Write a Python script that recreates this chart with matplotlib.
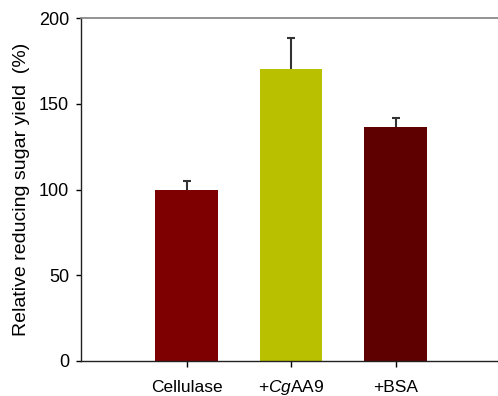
import matplotlib
matplotlib.use("Agg")
import matplotlib.pyplot as plt
import numpy as np

plt.rcParams['font.family'] = ['Liberation Sans', 'DejaVu Sans']
plt.rcParams['mathtext.fontset'] = 'custom'
plt.rcParams['mathtext.rm'] = 'Liberation Sans'
plt.rcParams['mathtext.it'] = 'Liberation Sans:italic'

labels = ['Cellulase', r'+$\mathit{Cg}$AA9', '+BSA']
yields = [100, 170, 136.5]
errors = [5, 18.5, 5]
colors = ['#7f0000', '#b8c000', '#5f0000']

fig = plt.figure(figsize=(4.98, 3.96), dpi=100)
ax = fig.add_axes([0.1627, 0.0884, 0.8373, 0.8661])

x = np.arange(len(labels))
ax.bar(x, yields, width=0.6, color=colors, zorder=2)
# error bars sit behind the bars so only the upper half shows
ax.errorbar(x, yields, yerr=errors, fmt='none',
            ecolor='#333333', elinewidth=1.5, capsize=3.2, capthick=1.5, zorder=1)

ax.set_xlim(-1.01, 2.98)
ax.set_ylim(0, 200)
ax.set_yticks([0, 50, 100, 150, 200])
ax.set_xticks(x)
ax.set_xticklabels(labels, fontsize=12.5, va='baseline')
ax.tick_params(axis='y', labelsize=13, direction='out', length=3.6, width=1, pad=5)
ax.tick_params(axis='x', direction='out', length=4, width=1, pad=18.5)

ax.spines['right'].set_visible(False)
ax.spines['top'].set_color('#808080')
ax.spines['top'].set_linewidth(1.2)
for s in ['left', 'bottom']:
    ax.spines[s].set_linewidth(1)
    ax.spines[s].set_color('#222222')

ax.set_ylabel('Relative reducing sugar yield  (%)', fontsize=14, labelpad=6)

fig.savefig('out.png', dpi=100)
